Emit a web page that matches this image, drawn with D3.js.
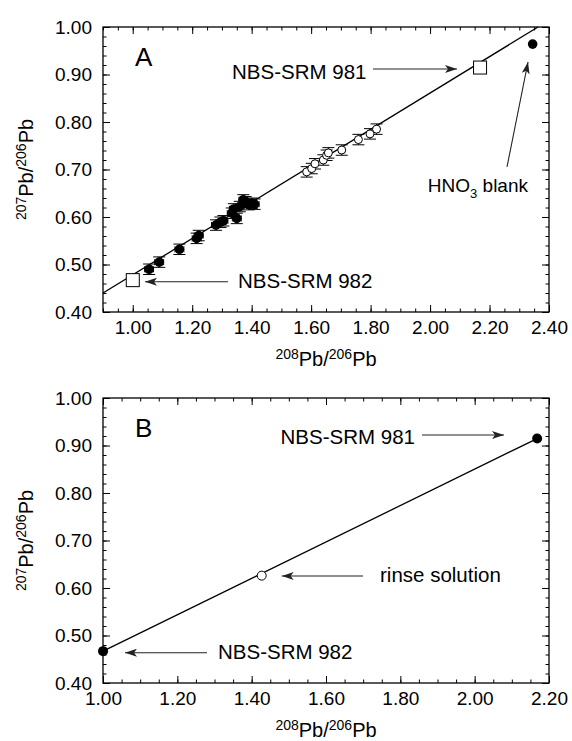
<!DOCTYPE html>
<html><head><meta charset="utf-8">
<script src="https://cdn.jsdelivr.net/npm/d3@7"></script>
<style>
body{margin:0;background:#fff}
svg{display:block}
text{font-family:"Liberation Sans",Arial,Helvetica,sans-serif;fill:#000}
</style></head>
<body><svg id="c" width="572" height="741"></svg>
<script>
// ---------- data ----------
const xTicksA = [1.00, 1.20, 1.40, 1.60, 1.80, 2.00, 2.20, 2.40];
const xTicksB = [1.00, 1.20, 1.40, 1.60, 1.80, 2.00, 2.20];
const yTicks  = [0.40, 0.50, 0.60, 0.70, 0.80, 0.90, 1.00];

// Panel A: samples (filled circles)
const filledX = [1.055, 1.089, 1.157, 1.215, 1.222, 1.280, 1.295, 1.305, 1.333, 1.340, 1.350, 1.360, 1.372, 1.380, 1.390, 1.400, 1.410];
const filledY = [0.490, 0.505, 0.532, 0.555, 0.561, 0.583, 0.589, 0.592, 0.608, 0.617, 0.597, 0.622, 0.636, 0.632, 0.626, 0.629, 0.627];
// Panel A: samples (open circles)
const openX = [1.585, 1.602, 1.613, 1.641, 1.652, 1.658, 1.703, 1.759, 1.798, 1.820];
const openY = [0.695, 0.702, 0.712, 0.720, 0.730, 0.735, 0.741, 0.763, 0.775, 0.785];
const errX = 0.015, errY = 0.011;
// standards NBS-SRM 982 and 981
const stdX = [1.00016, 2.1681];
const stdY = [0.46707, 0.91464];
// HNO3 blank
const blankX = [2.345], blankY = [0.964];
// regression line panel A
const lineAx = [0.90, 2.363], lineAy = [0.440, 1.00];
// Panel B: rinse solution
const rinseX = [1.427], rinseY = [0.626];

// ---------- layout ----------
const svg = d3.select("#c");
const L = 103, R = 549, H = 285;
const tops = [27, 398];

const defs = svg.append("defs");
defs.append("marker").attr("id","arr").attr("viewBox","0 0 12 8")
  .attr("refX",12).attr("refY",4).attr("markerWidth",12).attr("markerHeight",8)
  .attr("markerUnits","userSpaceOnUse").attr("orient","auto")
  .append("path").attr("d","M0,0 L12,4 L0,8 L3,4 Z").attr("fill","#222");

function panel(top, xDomain, xTicks, opts){
  const g = svg.append("g");
  const x = d3.scaleLinear().domain(xDomain).range([L, R]);
  const y = d3.scaleLinear().domain([0.40, 1.00]).range([top + H, top]);
  const fmt = d3.format(".2f");
  const xMinor = d3.range(xDomain[0], xDomain[1] + 1e-9, 0.05);
  const yMinor = d3.range(0.40, 1.0001, 0.02);

  const minor = (ax, tr) => g.append("g").attr("transform", tr).call(ax)
      .call(s => { s.select(".domain").remove(); s.selectAll("text").remove(); s.selectAll("line").attr("stroke","#000"); });
  minor(d3.axisBottom(x).tickValues(xMinor).tickSize(-3.5).tickFormat(""), `translate(0,${top+H})`);
  minor(d3.axisTop(x).tickValues(xMinor).tickSize(-3.5).tickFormat(""), `translate(0,${top})`);
  minor(d3.axisLeft(y).tickValues(yMinor).tickSize(-3.5).tickFormat(""), `translate(${L},0)`);
  minor(d3.axisRight(y).tickValues(yMinor).tickSize(-3.5).tickFormat(""), `translate(${R},0)`);

  const major = (ax, tr, keepText) => g.append("g").attr("transform", tr).call(ax)
      .call(s => { s.select(".domain").remove(); if(!keepText) s.selectAll("text").remove();
        s.selectAll("line").attr("stroke","#000");
        s.selectAll("text").style("font-size","19px").attr("fill","#000"); });
  major(d3.axisBottom(x).tickValues(xTicks).tickSize(-7).tickPadding(9).tickFormat(fmt), `translate(0,${top+H})`, true);
  major(d3.axisTop(x).tickValues(xTicks).tickSize(-7).tickFormat(""), `translate(0,${top})`, false);
  major(d3.axisLeft(y).tickValues(yTicks).tickSize(-7).tickPadding(11).tickFormat(fmt), `translate(${L},0)`, true);
  major(d3.axisRight(y).tickValues(yTicks).tickSize(-7).tickFormat(""), `translate(${R},0)`, false);

  g.append("rect").attr("x", L).attr("y", top).attr("width", R-L).attr("height", H)
    .attr("fill","none").attr("stroke","#000").attr("stroke-width",1.3);

  const xt = g.append("text").attr("x", (L+R)/2).attr("y", top+H+54).attr("text-anchor","middle").style("font-size","20px");
  xt.append("tspan").text("208").style("font-size","14px").attr("dy","-7");
  xt.append("tspan").text("Pb/").attr("dy","7");
  xt.append("tspan").text("206").style("font-size","14px").attr("dy","-7");
  xt.append("tspan").text("Pb").attr("dy","7");
  const yt = g.append("text").attr("transform",`translate(33,${top+H/2}) rotate(-90)`).attr("text-anchor","middle").style("font-size","20px");
  yt.append("tspan").text("207").style("font-size","14px").attr("dy","-7");
  yt.append("tspan").text("Pb/").attr("dy","7");
  yt.append("tspan").text("206").style("font-size","14px").attr("dy","-7");
  yt.append("tspan").text("Pb").attr("dy","7");

  g.append("text").attr("x", x(opts.letter[0])).attr("y", y(opts.letter[1])).text(opts.letterText).style("font-size","26px");

  opts.notes.forEach(n => {
    const t = g.append("text").attr("x", x(n.tx)).attr("y", y(n.ty)).attr("text-anchor", n.anchor || "start").style("font-size", n.size || "20.5px");
    if (n.sub) { t.append("tspan").text(n.text); t.append("tspan").text(n.sub).style("font-size","13px").attr("dy","6");
                 t.append("tspan").text(n.rest).attr("dy","-6"); }
    else t.text(n.text);
    g.append("line").attr("x1", x(n.a[0])).attr("y1", y(n.a[1])).attr("x2", x(n.a[2])).attr("y2", y(n.a[3]))
      .attr("stroke","#222").attr("stroke-width",1.1).attr("marker-end","url(#arr)");
  });
  return {g, x, y};
}

// ---------- Panel A ----------
const A = panel(tops[0], [0.90, 2.40], xTicksA, {
  letter: [1.0076, 0.9179], letterText: "A",
  notes: [
    {text:"NBS-SRM 981", tx:1.334, ty:0.8905, a:[1.808,0.9116,2.0906,0.9116]},
    {text:"NBS-SRM 982", tx:1.354, ty:0.4505, a:[1.3204,0.4638,1.0413,0.4638]},
    {text:"HNO", sub:"3", rest:" blank", tx:2.3294, ty:0.6526, anchor:"end", size:"19px", a:[2.2588,0.7053,2.3294,0.9263]}
  ]
});
A.g.append("line").attr("x1",A.x(lineAx[0])).attr("y1",A.y(lineAy[0])).attr("x2",A.x(lineAx[1])).attr("y2",A.y(lineAy[1]))
  .attr("stroke","#000").attr("stroke-width",1.3);

function errbars(P, xs, ys, withX){
  const g = P.g.append("g").attr("stroke","#000").attr("stroke-width",1);
  xs.forEach((vx,i) => {
    const cx = P.x(vx), cy = P.y(ys[i]);
    const t = P.y(ys[i]+errY), b = P.y(ys[i]-errY);
    g.append("line").attr("x1",cx).attr("x2",cx).attr("y1",t).attr("y2",b);
    g.append("line").attr("x1",cx-6).attr("x2",cx+6).attr("y1",t).attr("y2",t);
    g.append("line").attr("x1",cx-6).attr("x2",cx+6).attr("y1",b).attr("y2",b);
    if (withX){
      const l = P.x(vx-errX), r = P.x(vx+errX);
      g.append("line").attr("x1",l).attr("x2",r).attr("y1",cy).attr("y2",cy);
      g.append("line").attr("x1",l).attr("x2",l).attr("y1",cy-3).attr("y2",cy+3);
      g.append("line").attr("x1",r).attr("x2",r).attr("y1",cy-3).attr("y2",cy+3);
    }
  });
}
errbars(A, filledX, filledY, true);
errbars(A, openX, openY, false);

A.g.selectAll(".f").data(filledX).join("circle").attr("cx",d=>A.x(d)).attr("cy",(d,i)=>A.y(filledY[i]))
  .attr("r",4.8).attr("fill","#000");
A.g.selectAll(".o").data(openX).join("circle").attr("cx",d=>A.x(d)).attr("cy",(d,i)=>A.y(openY[i]))
  .attr("r",4).attr("fill","#fff").attr("stroke","#000").attr("stroke-width",1);
A.g.selectAll(".s").data(stdX).join("rect").attr("x",d=>A.x(d)-6.5).attr("y",(d,i)=>A.y(stdY[i])-6.5)
  .attr("width",13).attr("height",13).attr("fill","#fff").attr("stroke","#000").attr("stroke-width",1);
A.g.selectAll(".b").data(blankX).join("circle").attr("cx",d=>A.x(d)).attr("cy",(d,i)=>A.y(blankY[i]))
  .attr("r",4.8).attr("fill","#000");

// ---------- Panel B ----------
const B = panel(tops[1], [1.00, 2.20], xTicksB, {
  letter: [1.0861, 0.9179], letterText: "B",
  notes: [
    {text:"NBS-SRM 981", tx:1.8395, ty:0.9032, anchor:"end", a:[1.8583,0.9221,2.0789,0.9221]},
    {text:"NBS-SRM 982", tx:1.3094, ty:0.4505, a:[1.2798,0.4638,1.0592,0.4638]},
    {text:"rinse solution", tx:1.7453, ty:0.6126, a:[1.6995,0.6253,1.4808,0.6253]}
  ]
});
B.g.append("line").attr("x1",B.x(stdX[0])).attr("y1",B.y(stdY[0])).attr("x2",B.x(stdX[1])).attr("y2",B.y(stdY[1]))
  .attr("stroke","#000").attr("stroke-width",1.3);
B.g.selectAll(".s").data(stdX).join("circle").attr("cx",d=>B.x(d)).attr("cy",(d,i)=>B.y(stdY[i]))
  .attr("r",5).attr("fill","#000");
B.g.selectAll(".r").data(rinseX).join("circle").attr("cx",d=>B.x(d)).attr("cy",(d,i)=>B.y(rinseY[i]))
  .attr("r",4.5).attr("fill","#fff").attr("stroke","#000").attr("stroke-width",1);
</script></body></html>
